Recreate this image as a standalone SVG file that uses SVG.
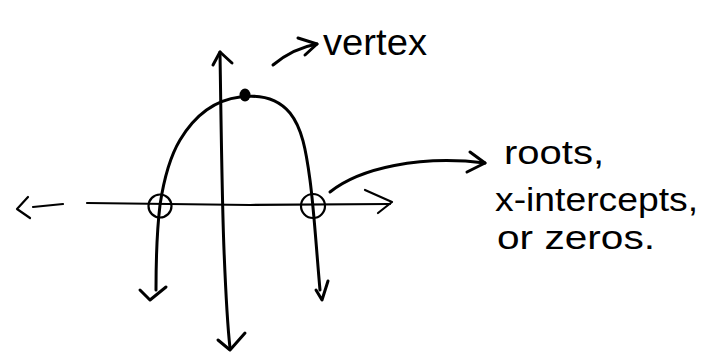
<svg xmlns="http://www.w3.org/2000/svg" width="718" height="361" viewBox="0 0 718 361">
<style>
.ink{fill:none;stroke:#000;stroke-width:3;stroke-linecap:round;stroke-linejoin:round}
.thin{fill:none;stroke:#000;stroke-width:2.2;stroke-linecap:round;stroke-linejoin:round}
.lbl{font-family:"Liberation Sans","DejaVu Sans",sans-serif;font-size:36px;fill:#000}
.lbl2{font-family:"Liberation Sans","DejaVu Sans",sans-serif;font-size:33px;fill:#000}
</style>
<rect width="718" height="361" fill="#fff"/>
<g id="axes">
<path class="thin" d="M28,197 L17,209 L30,218"/>
<path class="thin" d="M33,207 L63,204"/>
<path class="thin" d="M87,203 L250,205 L390,204"/>
<path class="thin" d="M365,190 L392,202 L378,213"/>
<path class="ink" d="M220,52 C221,120 222,200 224,250 C226,300 228,330 230,348"/>
<path class="ink" d="M213,65 L220,52 L232,63"/>
<path class="ink" d="M218,340 L230,350 L245,333"/>
</g>
<g id="parabola">
<path class="ink" d="M156,290 C156,260 157,230 160,205 C163,185 168,160 180,140 C195,115 215,100 240,97 C255,95 275,95 290,113 C302,128 306,150 310,180 C314,210 316,245 320,290"/>
<path class="ink" d="M140,290 L150,300 L166,287"/>
<path class="ink" d="M316,290 L322,300 L328,281"/>
</g>
<g id="vertex-point">
<ellipse cx="245" cy="95" rx="5.5" ry="6.5" fill="#000"/>
</g>
<g id="root-left">
<circle class="thin" cx="160" cy="206" r="11.5"/>
</g>
<g id="root-right">
<circle class="thin" cx="313" cy="206" r="12"/>
</g>
<g id="connectors">
<path class="ink" d="M273,65 C285,55 300,47 317,44"/>
<path class="ink" d="M298,38 L317,44 L305,55"/>
<path class="ink" d="M330,192 C360,168 420,155 485,163"/>
<path class="ink" d="M470,152 L485,163 L467,172"/>
</g>
<g id="label-vertex">
<text class="lbl" x="323" y="55" textLength="104" lengthAdjust="spacingAndGlyphs">vertex</text>
</g>
<g id="label-roots">
<text class="lbl2" x="504" y="164" textLength="100" lengthAdjust="spacingAndGlyphs">roots,</text>
<text class="lbl2" x="495" y="211" textLength="203" lengthAdjust="spacingAndGlyphs">x-intercepts,</text>
<text class="lbl2" x="497" y="249" textLength="158" lengthAdjust="spacingAndGlyphs">or zeros.</text>
</g>
</svg>
